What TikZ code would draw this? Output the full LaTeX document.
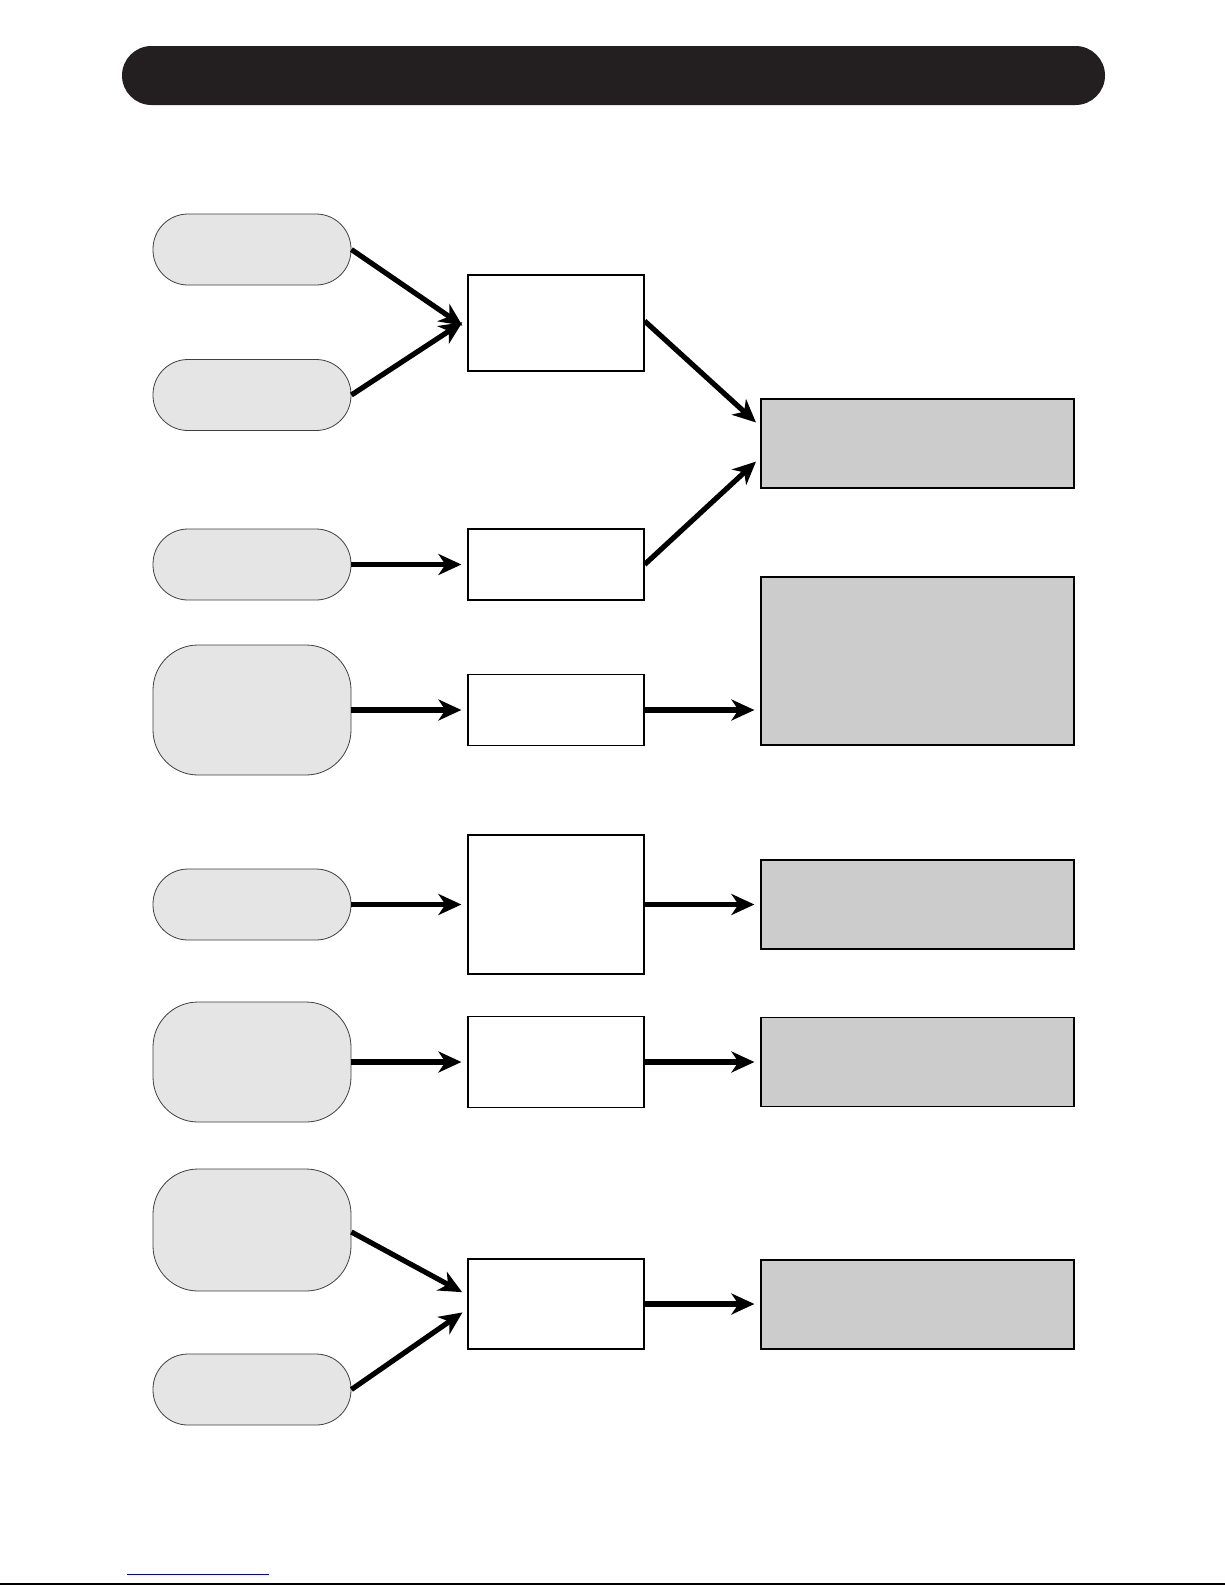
\documentclass[tikz,border=0pt]{standalone}
\usetikzlibrary{arrows.meta}
\definecolor{ovalgrey}{HTML}{E5E5E5}
\definecolor{boxgrey}{HTML}{CCCCCC}
\definecolor{barblack}{HTML}{231F20}
\definecolor{linkblue}{HTML}{0000CC}
\begin{document}
\begin{tikzpicture}[x=1pt,y=-1pt,
  pill/.style={draw=black!75, line width=0.8pt, fill=ovalgrey, rounded corners=35pt, inner sep=0pt, minimum width=198pt, minimum height=71pt},
  tallpill/.style={pill, rounded corners=45pt},
  wbox/.style={draw, line width=1.2pt, fill=white, inner sep=0pt, minimum width=176pt},
  gbox/.style={draw, line width=1.2pt, fill=boxgrey, inner sep=0pt, minimum width=313pt},
  flow/.style={line width=5.2pt, shorten >=6pt, -{Stealth[length=23pt,width=21pt,inset=7pt]}}]
\useasboundingbox (0,0) rectangle (1225,1585);
\fill[white] (0,0) rectangle (1225,1585);

% title bar
\node[fill=barblack, rounded corners=29.5pt, inner sep=0pt, minimum width=983pt, minimum height=59pt] (title) at (613.5,75.5) {};

% left ovals
\node[pill] (o1) at (252,249.5) {};
\node[pill] (o2) at (252,395) {};
\node[pill] (o3) at (252,564.5) {};
\node[tallpill, minimum height=130pt] (o4) at (252,710) {};
\node[pill] (o5) at (252,904.5) {};
\node[tallpill, minimum height=120pt] (o6) at (252,1062) {};
\node[tallpill, minimum height=122pt] (o7) at (252,1230) {};
\node[pill] (o8) at (252,1389.5) {};

% white boxes
\node[wbox, minimum height=96pt] (b1) at (556,323) {};
\node[wbox, minimum height=71pt] (b2) at (556,564.5) {};
\node[wbox, minimum height=71pt] (b3) at (556,710) {};
\node[wbox, minimum height=139pt] (b4) at (556,904.5) {};
\node[wbox, minimum height=91pt] (b5) at (556,1062) {};
\node[wbox, minimum height=90pt] (b6) at (556,1304) {};

% grey boxes
\node[gbox, minimum height=89pt] (g1) at (917.5,443.5) {};
\node[gbox, minimum height=168pt] (g2) at (917.5,661) {};
\node[gbox, minimum height=89pt] (g3) at (917.5,904.5) {};
\node[gbox, minimum height=89pt] (g4) at (917.5,1062) {};
\node[gbox, minimum height=89pt] (g5) at (917.5,1304.5) {};

% arrows
\draw[flow] (o1.east) -- ([yshift=-6pt]b1.west);
\draw[flow] (o2.east) -- ([yshift=4pt]b1.west);
\draw[flow] (o3.east) -- (b2.west);
\draw[flow] ([yshift=2pt]b1.east) -- ([yshift=17pt]g1.west);
\draw[flow] (b2.east) -- ([yshift=-14pt]g1.west);
\draw[flow] (o4.east) -- (b3.west);
\draw[flow] (b3.east) -- (b3.east -| g2.west);
\draw[flow] (o5.east) -- (b4.west);
\draw[flow] (b4.east) -- (g3.west);
\draw[flow] (o6.east) -- (b5.west);
\draw[flow] (b5.east) -- (g4.west);
\draw[flow] ([yshift=-2pt]o7.east) -- ([yshift=9pt]b6.west);
\draw[flow] (o8.east) -- ([yshift=-5pt]b6.west);
\draw[flow] (b6.east) -- (b6.east -| g5.west);

% bottom rules
\coordinate (bl1) at (127,1574.5);
\coordinate (bl2) at (269,1574.5);
\coordinate (kl1) at (0,1583.8);
\coordinate (kl2) at (1225,1583.8);
\draw[linkblue, line width=1.3pt] (bl1) -- (bl2);
\draw[black, line width=1.5pt] (kl1) -- (kl2);
\end{tikzpicture}
\end{document}
